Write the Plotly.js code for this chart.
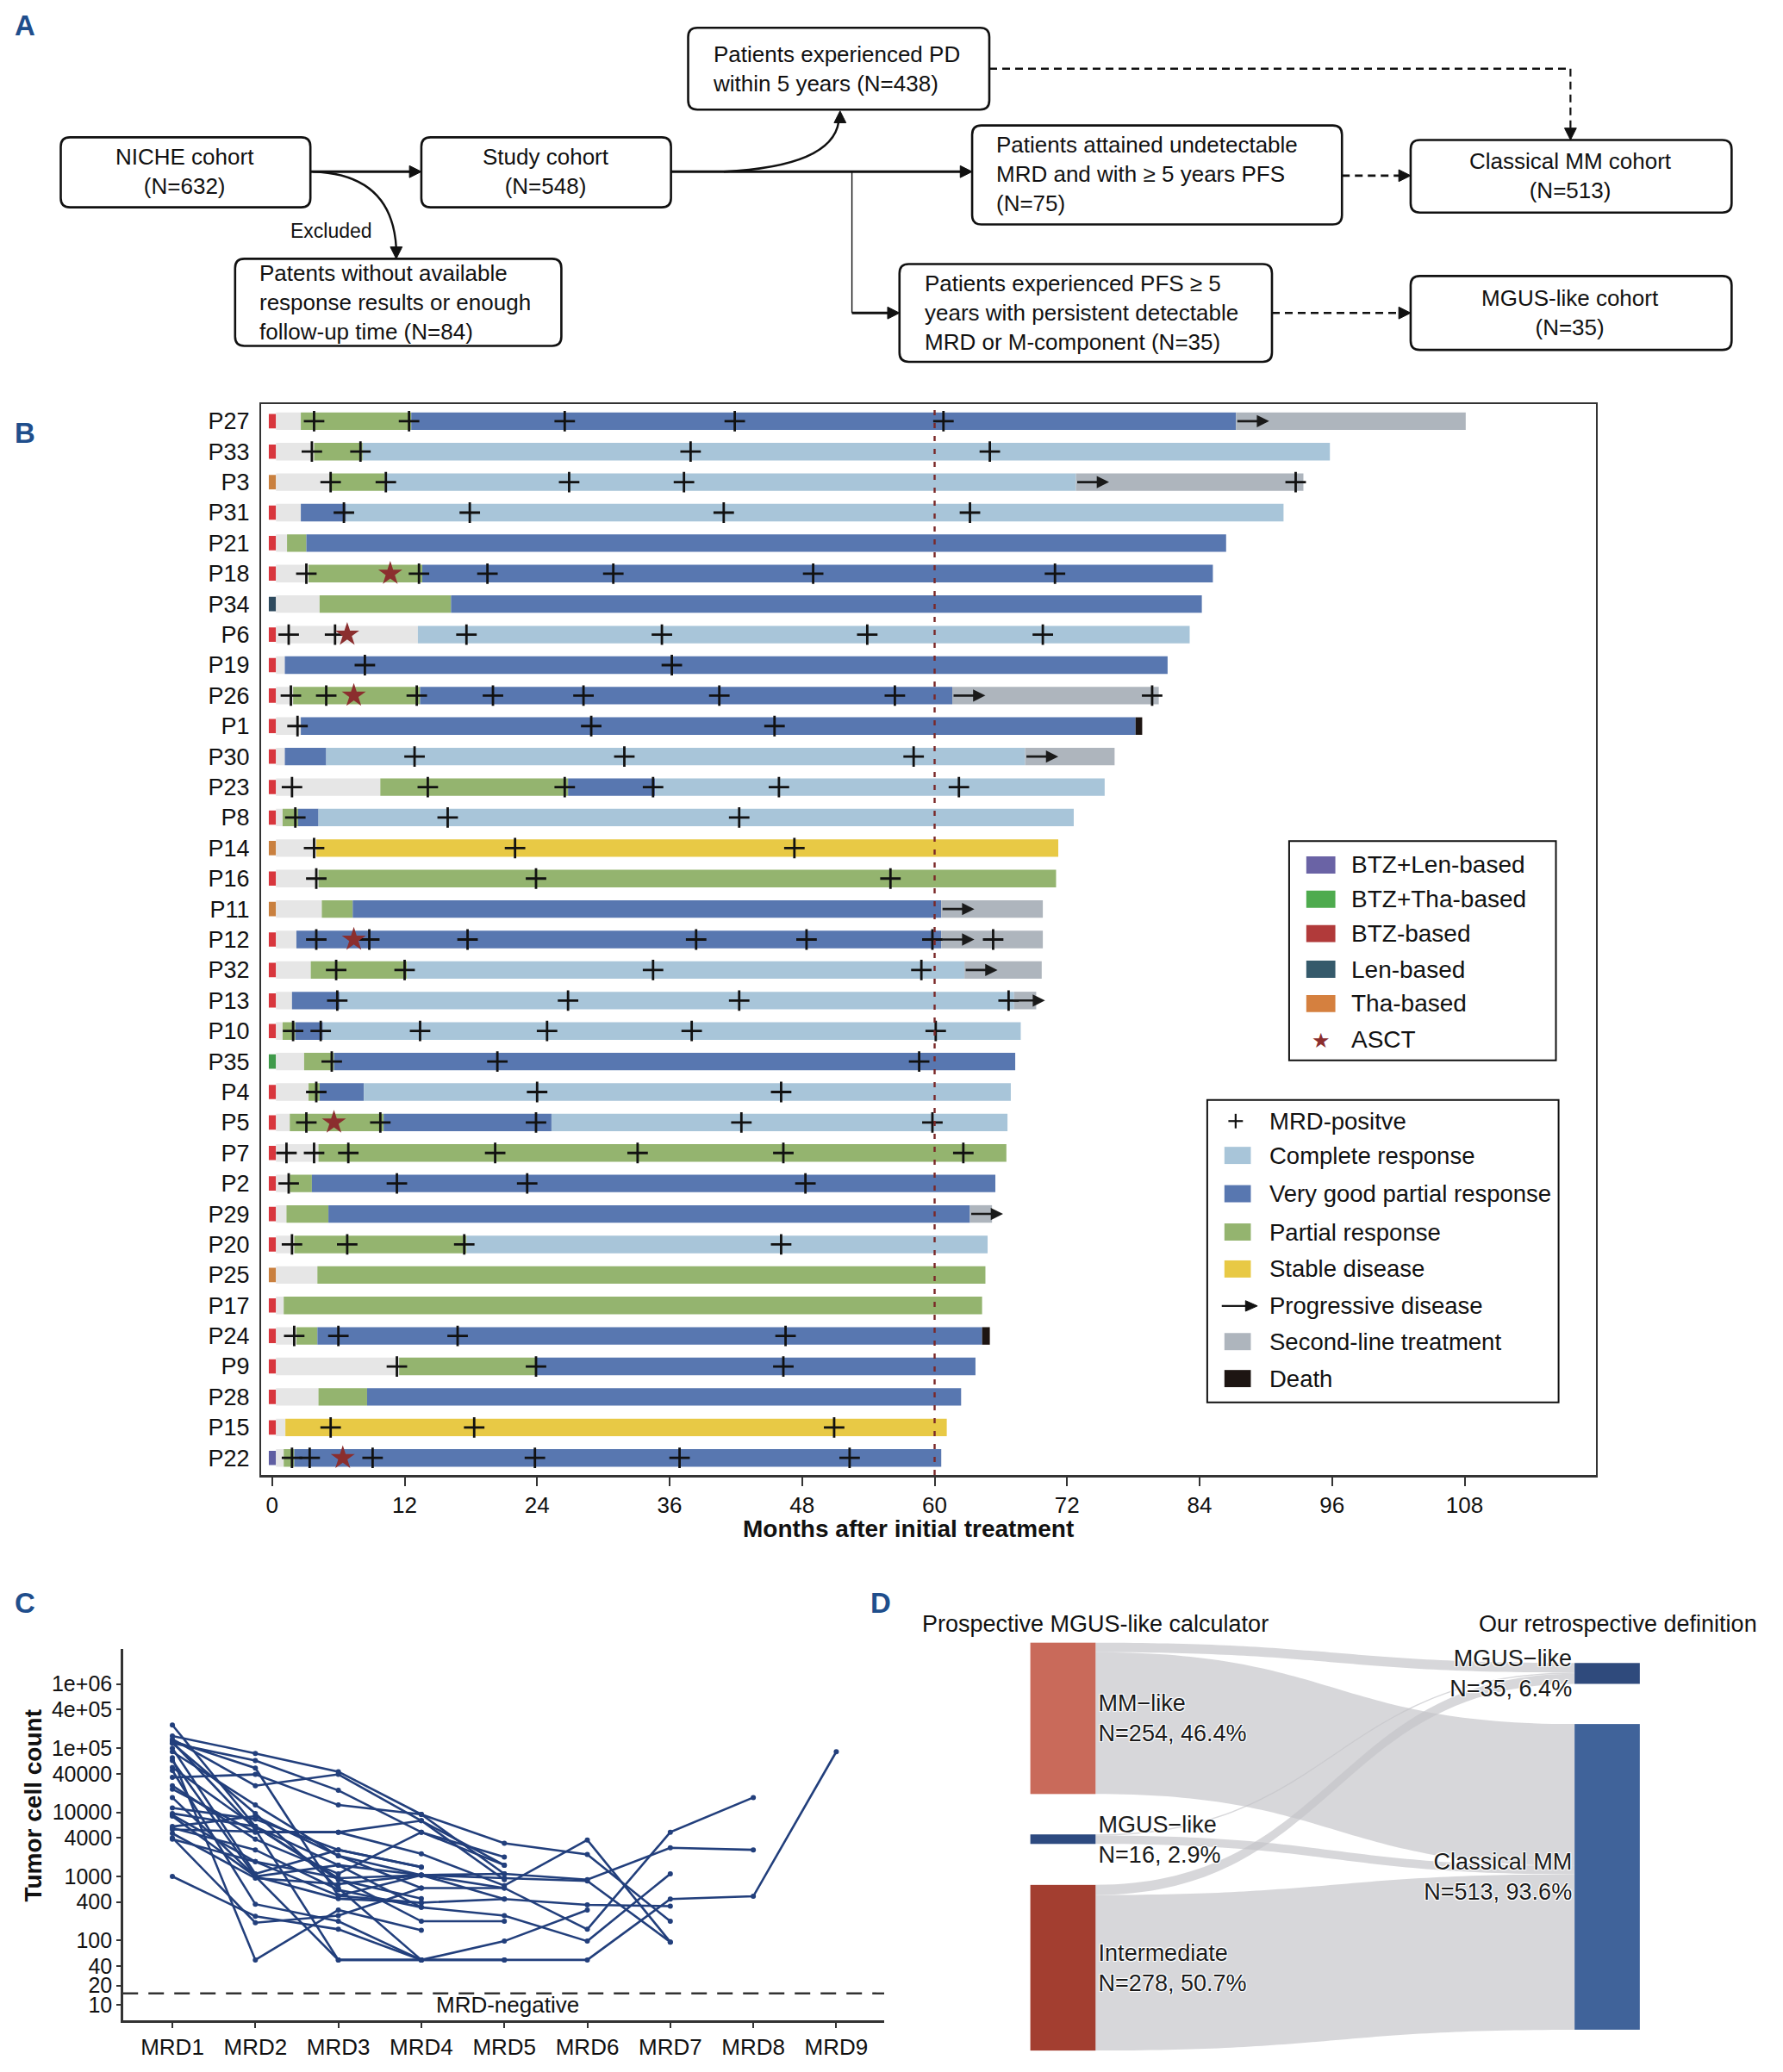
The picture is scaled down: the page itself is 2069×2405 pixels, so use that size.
<!DOCTYPE html>
<html><head><meta charset="utf-8">
<script src="https://cdn.plot.ly/plotly-3.0.1.min.js"></script>
<style>html,body{margin:0;padding:0;background:#fff;}#chart{width:2069px;height:2405px;}</style>
</head><body><div id="chart"></div>
<script>
// ---------------- DATA (panel B) ----------------
const patients = ['P27','P33','P3','P31','P21','P18','P34','P6','P19','P26','P1','P30','P23','P8','P14','P16','P11','P12','P32','P13','P10','P35','P4','P5','P7','P2','P29','P20','P25','P17','P24','P9','P28','P15','P22'];
const regimen = ['BTZ','BTZ','THA','BTZ','BTZ','BTZ','LEN','BTZ','BTZ','BTZ','BTZ','BTZ','BTZ','BTZ','THA','BTZ','THA','BTZ','BTZ','BTZ','BTZ','BTZTHA','BTZ','BTZ','BTZ','BTZ','BTZ','BTZ','THA','BTZ','BTZ','BTZ','BTZ','BTZ','BTZLEN'];
const firstResponse = [2.6,3.8,5.2,2.6,1.35,3.3,4.3,13.2,1.15,1.9,2.6,1.15,9.8,0.95,4.0,4.2,4.5,2.2,3.5,1.8,0.95,2.9,3.3,1.6,4.2,1.6,1.3,2.0,4.1,1.05,2.2,11.5,4.2,1.2,1.05];
const states = [
 ['PR','VGPR','SL'],['PR','CR'],['PR','CR','SL'],['VGPR','CR'],['PR','VGPR'],['PR','VGPR'],['PR','VGPR'],['CR'],['VGPR'],['PR','VGPR','SL'],
 ['VGPR','D'],['VGPR','CR','SL'],['PR','VGPR','CR'],['PR','VGPR','CR'],['SD'],['PR'],['PR','VGPR','SL'],['VGPR','SL'],['PR','CR','SL'],['VGPR','CR','SL'],
 ['PR','VGPR','CR'],['PR','VGPR'],['PR','VGPR','CR'],['PR','VGPR','CR'],['PR'],['PR','VGPR'],['PR','VGPR','SL'],['PR','CR'],['PR'],['PR'],
 ['PR','VGPR','D'],['PR','VGPR'],['PR','VGPR'],['SD'],['PR','VGPR']];
const stateEnds = [
 [12.6,87.3,108.1],[8.2,95.8],[10.2,72.8,93.4],[6.7,91.6],[3.1,86.4],[13.6,85.2],[16.2,84.2],[83.1],[81.1],[13.4,61.6,80.3],
 [78.2,78.8],[4.9,68.2,76.3],[26.8,34.7,75.4],[2.35,4.2,72.6],[71.2],[71.0],[7.3,60.6,69.8],[60.6,69.8],[12.2,62.7,69.7],[6.1,67.2,69.2],
 [2.1,4.6,67.8],[5.6,67.3],[4.3,8.3,66.9],[10.1,25.3,66.6],[66.5],[3.6,65.5],[5.1,63.2,65.2],[17.6,64.8],[64.6],[64.3],
 [4.1,64.3,65.0],[23.9,63.7],[8.6,62.4],[61.1],[2.0,60.6]];
const pdTime = [87.3,null,72.8,null,null,null,null,null,null,61.6,null,68.2,null,null,null,null,60.6,60.6,62.7,67.0,null,null,null,null,null,null,63.2,null,null,null,null,null,null,null,null];
const mrdPositive = [
 [3.8,12.4,26.5,41.9,60.8],[3.6,8.0,37.9,65.0],[5.3,10.3,26.9,37.3,92.7],[6.5,17.9,40.9,63.2],[],[3.1,13.3,19.5,30.9,49.0,70.9],[],[1.5,5.7,17.6,35.3,53.9,69.8],[8.4,36.2],[1.7,4.9,13.1,20.0,28.2,40.5,56.4,79.7],
 [2.3,28.9,45.5],[12.9,31.9,58.1],[1.8,14.1,26.5,34.5,45.9,62.2],[2.1,15.9,42.3],[3.8,22.0,47.3],[4.0,23.9,56.0],[],[4.0,8.8,17.7,38.4,48.4,59.8,65.3],[5.8,12.0,34.5,58.8],[5.9,26.8,42.3,66.7],
 [1.9,4.4,13.4,24.9,38.0,60.1],[5.4,20.4,58.6],[4.0,24.0,46.1],[3.1,9.8,23.9,42.5,59.8],[1.3,3.8,6.9,20.2,33.1,46.3,62.6],[1.5,11.3,23.1,48.3],[],[1.8,6.8,17.4,46.1],[],[],
 [2.0,6.0,16.8,46.5],[11.3,23.9,46.3],[],[5.3,18.3,50.9],[1.8,3.4,9.1,23.8,36.9,52.3]];
const asctPatients = ['P18','P6','P26','P12','P5','P22'];
const asctTime = [10.7,6.8,7.4,7.4,5.6,6.4];
const monthTicks = [0,12,24,36,48,60,72,84,96,108];

// ---------------- DATA (panel C) ----------------
const mrdLabels = ['MRD1','MRD2','MRD3','MRD4','MRD5','MRD6','MRD7','MRD8','MRD9'];
const tumorSeries = [
 [88000,13000,2100,660,660,150,4900,17000],
 [50000,6000,1500,1050,1100,890,2800,2600],
 [5700,2600,620,330,245,98,1100],
 [125000,5400,50,50,50,50,445,490,88000],
 [8700,1000,450,390,445,360,345],
 [155000,83000,43000,9300,3300,2200,200],
 [23000,4900,4900,2250,720,3700,95],
 [4700,940,760,1050,940,850,95],
 [1000,240,150,50,98,300],
 [138000,26000,39000,7400,1500],
 [120000,64000,22000,4900,1500],
 [9100,1700,940,200,200],
 [35000,39000,13000,9300,1100],
 [71000,50,300,145],
 [11700,7800,2600,1400],
 [230000,6000,940,1050,660],
 [130000,49000,500,390],
 [64000,1000,50,50,50],
 [45000,370,200,50],
 [17000,1000,1500,330],
 [5400,5000,4900,7400,890],
 [4000,190,245,660],
 [6000,8700,2100,1050,445],
 [3800,1700,500,1050],
 [120000,9600,660,50],
 [26000,3800,1100,4900,2000],
 [9600,6000,890,450],
 [100000,1100,2600,1400]];
const yTickVals = [1e6,4e5,1e5,40000,10000,4000,1000,400,100,40,20,10];
const yTickText = ['1e+06','4e+05','1e+05','40000','10000','4000','1000','400','100','40','20','10'];
const mrdNegThreshold = 15;

// ---------------- DATA (panel D) ----------------
const sankeyLabels = ['MM−like<br>N=254, 46.4%','MGUS−like<br>N=16, 2.9%','Intermediate<br>N=278, 50.7%','MGUS−like<br>N=35, 6.4%','Classical MM<br>N=513, 93.6%'];
const linkSource = [0,0,1,1,2,2];
const linkTarget = [3,4,3,4,3,4];
const linkValue  = [16,238,2,14,17,261];

// ---------------- helpers (layout only) ----------------
const W=2069,H=2405,S=1.5327;
const PX=x=>x*S/W, PY=y=>1-y*S/H;
const FONT='Liberation Sans, Arial, sans-serif';
const shapes=[], ann=[];
function rrect(x0,y0,x1,y1,r){
  r=r||7;
  const p=`M ${PX(x0+r)},${PY(y0)} L ${PX(x1-r)},${PY(y0)} Q ${PX(x1)},${PY(y0)} ${PX(x1)},${PY(y0+r)} L ${PX(x1)},${PY(y1-r)} Q ${PX(x1)},${PY(y1)} ${PX(x1-r)},${PY(y1)} L ${PX(x0+r)},${PY(y1)} Q ${PX(x0)},${PY(y1)} ${PX(x0)},${PY(y1-r)} L ${PX(x0)},${PY(y0+r)} Q ${PX(x0)},${PY(y0)} ${PX(x0+r)},${PY(y0)} Z`;
  shapes.push({type:'path',xref:'paper',yref:'paper',path:p,line:{color:'#111',width:2.6},fillcolor:'rgba(0,0,0,0)'});
}
function line(x0,y0,x1,y1,w,dash,col){
  shapes.push({type:'line',xref:'paper',yref:'paper',x0:PX(x0),y0:PY(y0),x1:PX(x1),y1:PY(y1),line:{color:col||'#111',width:w||3,dash:dash||'solid'}});
}
function head(tx,ty,dir,L,w){
  L=L||9;w=w||4.5;let a,b;
  if(dir==='r'){a=[tx-L,ty-w];b=[tx-L,ty+w];}
  if(dir==='l'){a=[tx+L,ty-w];b=[tx+L,ty+w];}
  if(dir==='d'){a=[tx-w,ty-L];b=[tx+w,ty-L];}
  if(dir==='u'){a=[tx-w,ty+L];b=[tx+w,ty+L];}
  shapes.push({type:'path',xref:'paper',yref:'paper',path:`M ${PX(tx)},${PY(ty)} L ${PX(a[0])},${PY(a[1])} L ${PX(b[0])},${PY(b[1])} Z`,fillcolor:'#111',line:{color:'#111',width:1}});
}
function curve(x0,y0,cx,cy,x1,y1,w){
  shapes.push({type:'path',xref:'paper',yref:'paper',path:`M ${PX(x0)},${PY(y0)} Q ${PX(cx)},${PY(cy)} ${PX(x1)},${PY(y1)}`,line:{color:'#111',width:w||2.6},fillcolor:'rgba(0,0,0,0)'});
}
function text(x,y,t,opt){
  opt=opt||{};
  ann.push({xref:'paper',yref:'paper',x:PX(x),y:PY(y),text:t,showarrow:false,xanchor:opt.xa||'center',yanchor:opt.ya||'middle',align:opt.align||(opt.xa==='left'?'left':'center'),textangle:opt.angle||0,font:{family:FONT,size:opt.size||26,color:opt.color||'#111',weight:opt.bold?'bold':'normal'}});
}

// ---------------- Panel A (flowchart) ----------------
const DASH='9px,6px';
rrect(46,104,235,157); text(140,130,'NICHE cohort<br>(N=632)');
rrect(319,104,508,157); text(413,130,'Study cohort<br>(N=548)');
rrect(521,21,749,83); text(538,52,'Patients experienced PD<br>within 5 years (N=438)',{xa:'left'});
rrect(736,95,1016,170); text(753,132,'Patients attained undetectable<br>MRD and with ≥ 5 years PFS<br>(N=75)',{xa:'left'});
rrect(1068,106,1311,161); text(1189,133,'Classical MM cohort<br>(N=513)');
rrect(178,196,425,262); text(195,229,'Patents without available<br>response results or enough<br>follow-up time (N=84)',{xa:'left'});
rrect(681,200,963,274); text(699,237,'Patients experienced PFS ≥ 5<br>years with persistent detectable<br>MRD or M-component (N=35)',{xa:'left'});
rrect(1068,209,1311,265); text(1189,237,'MGUS-like cohort<br>(N=35)');
text(251,175,'Excluded',{size:23});
line(235,130,311,130,3); head(319,130,'r');
curve(237,130,297,132,300,188,2.4); head(300,196,'d');
line(508,130,728,130,3); head(736,130,'r');
curve(548,130,630,126,635,92,2.4); head(636,84,'u');
line(645,130,645,237,1.4); line(645,237,673,237,3); head(681,237,'r');
line(749,52,1189,52,2.6,DASH); line(1189,52,1189,98,2.2,DASH); head(1189,106,'d');
line(1016,133,1060,133,2.6,DASH); head(1068,133,'r');
line(963,237,1060,237,2.6,DASH); head(1068,237,'r');

// panel letters
const LETTER='#1f4e8c';
text(19,19,'A',{size:33,bold:true,color:LETTER});
text(19,328,'B',{size:33,bold:true,color:LETTER});
text(19,1214,'C',{size:33,bold:true,color:LETTER});
text(667,1214,'D',{size:33,bold:true,color:LETTER});

// ---------------- Panel B traces ----------------
const regColor={BTZ:'#d8363d',THA:'#c9803f',LEN:'#2e4a5e',BTZTHA:'#3f9a4a',BTZLEN:'#5f5ea2'};
const stateColor={PRE:'#e6e6e6',PR:'#94b46f',VGPR:'#5877b0',CR:'#a8c5d9',SD:'#e8c945',SL:'#aeb5bd',D:'#1d1512'};
const traces=[];
const yIdx=patients.map((p,i)=>i);
traces.push({type:'bar',orientation:'h',xaxis:'x',yaxis:'y',y:yIdx,base:patients.map(()=>-0.3),x:patients.map(()=>0.65),width:0.47,
  marker:{color:regimen.map(r=>regColor[r]),line:{width:0}},hoverinfo:'skip',showlegend:false});
const seg={};
Object.keys(stateColor).forEach(k=>{seg[k]={y:[],b:[],x:[]};});
patients.forEach((p,i)=>{
  seg.PRE.y.push(i);seg.PRE.b.push(0.35);seg.PRE.x.push(firstResponse[i]-0.35);
  let start=firstResponse[i];
  states[i].forEach((s,k)=>{const e=stateEnds[i][k];seg[s].y.push(i);seg[s].b.push(start);seg[s].x.push(e-start);start=e;});
});
Object.keys(stateColor).forEach(k=>{
  traces.push({type:'bar',orientation:'h',xaxis:'x',yaxis:'y',y:seg[k].y,base:seg[k].b,x:seg[k].x,width:0.575,
    marker:{color:stateColor[k],line:{width:0}},hoverinfo:'skip',showlegend:false});
});
const cx=[],cy=[];
mrdPositive.forEach((arr,i)=>arr.forEach(t=>{cx.push(t);cy.push(i);}));
traces.push({type:'scatter',mode:'markers',xaxis:'x',yaxis:'y',x:cx,y:cy,marker:{symbol:'cross-thin',size:17,line:{color:'#111',width:2.8}},hoverinfo:'skip',showlegend:false});
traces.push({type:'scatter',mode:'markers',xaxis:'x',yaxis:'y',x:asctTime,y:asctPatients.map(p=>patients.indexOf(p)),marker:{symbol:'star',size:21,color:'#8b2e2e'},hoverinfo:'skip',showlegend:false});
pdTime.forEach((t,i)=>{ if(t!==null){
  ann.push({xref:'x',yref:'y',x:t+3.0,y:i,axref:'x',ayref:'y',ax:t,ay:i,text:'',showarrow:true,arrowhead:2,arrowsize:1.1,arrowwidth:2.6,arrowcolor:'#1a1a1a',standoff:0,startstandoff:0});
}});
shapes.push({type:'line',xref:'x',yref:'y domain',x0:60,x1:60,y0:0,y1:1,line:{color:'#7a2828',width:2.4,dash:'6px,9px'}});
text(688,1158,'Months after initial treatment',{size:28,bold:true});

// legends (panel B)
function box(x0,y0,x1,y1){shapes.push({type:'rect',xref:'paper',yref:'paper',x0:PX(x0),x1:PX(x1),y0:PY(y1),y1:PY(y0),line:{color:'#111',width:2},fillcolor:'#fff'});}
function swatch(x0,x1,yc,h,col){shapes.push({type:'rect',xref:'paper',yref:'paper',x0:PX(x0),x1:PX(x1),y0:PY(yc+h/2),y1:PY(yc-h/2),line:{width:0},fillcolor:col});}
box(976,637,1178,803);
const leg1=[['BTZ+Len-based','#6a63a5'],['BTZ+Tha-based','#4eab4e'],['BTZ-based','#b13a3a'],['Len-based','#355a6b'],['Tha-based','#d5803f']];
const leg1y=[655,681,707,734,760,787];
leg1.forEach((l,k)=>{swatch(989,1011,leg1y[k],13,l[1]);text(1022,leg1y[k],l[0],{xa:'left',size:28});});
text(1000,leg1y[5]+1,'★',{size:24,color:'#8b2e2e'});text(1022,leg1y[5],'ASCT',{xa:'left',size:28});
box(914,833,1180,1062);
const leg2y=[849,875,904,933,961,989,1016,1044];
const leg2=['MRD-positve','Complete response','Very good partial response','Partial response','Stable disease','Progressive disease','Second-line treatment','Death'];
leg2.forEach((t,k)=>text(960,leg2y[k],t,{xa:'left',size:27.5}));
line(930,849,941,849,2.2); line(935.5,843.5,935.5,854.5,2.2);
swatch(927,947,875,13,stateColor.CR);swatch(927,947,904,13,stateColor.VGPR);swatch(927,947,933,13,stateColor.PR);
swatch(927,947,961,13,stateColor.SD);line(925,989,944,989,2.2);head(952,989,'r',9,4);
swatch(927,947,1016,13,stateColor.SL);swatch(927,947,1044,13,stateColor.D);

// ---------------- Panel C traces ----------------
tumorSeries.forEach(s=>{
  traces.push({type:'scatter',mode:'lines+markers',xaxis:'x2',yaxis:'y2',x:s.map((v,i)=>i),y:s,line:{color:'#223f7c',width:2.6},marker:{color:'#223f7c',size:6},hoverinfo:'skip',showlegend:false});
});
traces.push({type:'scatter',mode:'lines',xaxis:'x2',yaxis:'y2',x:[-0.6,8.58],y:[mrdNegThreshold,mrdNegThreshold],line:{color:'#333',width:2.4,dash:'18px,12px'},hoverinfo:'skip',showlegend:false});
text(384,1518,'MRD-negative',{size:26});
text(25,1367,'Tumor cell count',{size:28,bold:true,angle:-90});

// ---------------- Panel D sankey ----------------
const sx0=1195.6/W, sx1=1903.2/W;
traces.push({type:'sankey',arrangement:'fixed',domain:{x:[sx0,sx1],y:[1-2380/H,1-1907/H]},hoverinfo:'none',
  node:{label:sankeyLabels,color:['#c96a5a','#2d4a80','#a33e30','#2f4a7c','#40639a'],pad:47,thickness:75.7,
    x:[0.0535,0.0535,0.0535,0.946,0.946],y:[0.185,0.4815,0.797,0.0748,0.574],line:{width:0},hoverinfo:'none'},
  link:{source:linkSource,target:linkTarget,value:linkValue,color:'rgba(196,196,200,0.68)',line:{width:0},hoverinfo:'none'},
  textfont:{family:FONT,size:27,color:'#1a1a1a'}});
text(829,1230,'Prospective MGUS-like calculator',{size:27});
text(1225,1230,'Our retrospective definition',{size:27});

// ---------------- Layout ----------------
const layout={width:W,height:H,margin:{l:0,r:0,t:0,b:0},paper_bgcolor:'#fff',plot_bgcolor:'rgba(0,0,0,0)',
  font:{family:FONT,color:'#111'},barmode:'overlay',showlegend:false,
  xaxis:{domain:[PX(198),PX(1208)],anchor:'y',range:[-0.96,119.86],tickvals:monthTicks,ticks:'outside',ticklen:10,tickwidth:2,tickcolor:'#333',
    showline:true,mirror:true,linecolor:'#333',linewidth:2.5,showgrid:false,zeroline:false,tickfont:{size:26}},
  yaxis:{domain:[PY(1117),PY(306)],anchor:'x',range:[34.56,-0.56],tickvals:yIdx,ticktext:patients,ticks:'',showline:true,mirror:true,
    linecolor:'#333',linewidth:2.5,showgrid:false,zeroline:false,tickfont:{size:27},ticklabelstandoff:6},
  xaxis2:{domain:[142.7/W,1026/W],anchor:'y2',range:[-0.595,8.577],tickvals:mrdLabels.map((m,i)=>i),ticktext:mrdLabels,ticks:'outside',ticklen:6,tickwidth:2,
    tickcolor:'#333',showline:true,linecolor:'#333',linewidth:2.5,showgrid:false,zeroline:false,tickfont:{size:26}},
  yaxis2:{domain:[1-2345/H,1-1913.6/H],anchor:'x2',type:'log',range:[0.757,6.552],tickvals:yTickVals,ticktext:yTickText,ticks:'outside',ticklen:5,tickwidth:2,
    tickcolor:'#333',showline:true,linecolor:'#333',linewidth:2.5,showgrid:false,zeroline:false,tickfont:{size:25}},
  shapes:shapes,annotations:ann};
Plotly.newPlot('chart',traces,layout,{staticPlot:true,displayModeBar:false});
</script></body></html>
